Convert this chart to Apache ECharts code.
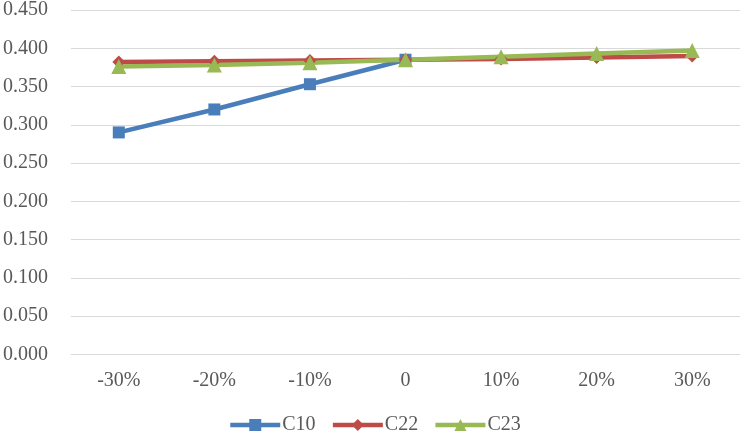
<!DOCTYPE html>
<html><head><meta charset="utf-8">
<script src="https://cdn.jsdelivr.net/npm/echarts@6/dist/echarts.min.js"></script>
<style>html,body{margin:0;padding:0;background:#fff}#c{width:740px;height:431px}</style>
</head><body><div id="c"></div>
<script>
const categories = ['-30%','-20%','-10%','0','10%','20%','30%'];
const c10 = [0.290, 0.320, 0.353, 0.385, null, null, null];
const c22 = [0.382, 0.383, 0.384, 0.385, 0.386, 0.388, 0.390];
const c23 = [0.376, 0.378, 0.381, 0.385, 0.389, 0.393, 0.397];
const yTicks = ['0.000','0.050','0.100','0.150','0.200','0.250','0.300','0.350','0.400','0.450'];

const font = 'Liberation Serif, Times New Roman, serif';
const chart = echarts.init(document.getElementById('c'));
function s(name, data, color, symbol, size) {
  return {name, type:'line', data, color, symbol, symbolSize:size, showSymbol:true,
    lineStyle:{width:4.5, color}, itemStyle:{color}, connectNulls:false, z: 2};
}
chart.setOption({
  animation:false,
  grid:{left:68, right:0, top:7.5, bottom:76.7},
  xAxis:{type:'category', data:categories, boundaryGap:true,
    axisLine:{lineStyle:{color:'#d9d9d9', width:1}}, axisTick:{show:false},
    axisLabel:{color:'#595959', fontFamily:font, fontSize:20, margin:16}},
  yAxis:{type:'value', min:0, max:0.45, interval:0.05,
    axisLine:{show:false}, axisTick:{show:false},
    splitLine:{lineStyle:{color:'#d9d9d9', width:1}},
    axisLabel:{color:'#595959', fontFamily:font, fontSize:20, margin:23,
      formatter:(v)=>yTicks[Math.round(v/0.05)]}},
  legend:{top:415, left:228, itemWidth:50, itemHeight:15, itemGap:15, padding:0,
    lineStyle:{width:4.5},
    textStyle:{color:'#595959', fontFamily:font, fontSize:20, padding:[0,0,0,-3]},
    data:['C10','C22','C23']},
  series:[
    s('C10', c10, '#4a7ebb', 'rect', 12),
    s('C22', c22, '#be4b48', 'diamond', 13),
    s('C23', c23, '#98b954', 'triangle', 15)
  ]
});
</script></body></html>
